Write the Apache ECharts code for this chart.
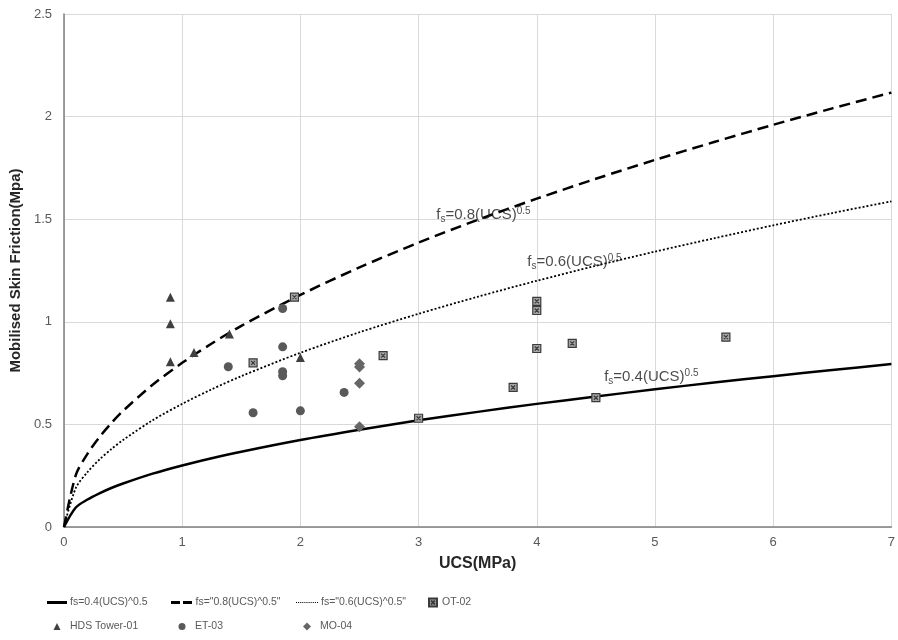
<!DOCTYPE html>
<html>
<head>
<meta charset="utf-8">
<script src="https://cdn.jsdelivr.net/npm/echarts@6/dist/echarts.min.js"></script>
<style>
  html, body { margin: 0; padding: 0; background: #fff; }
  #chart { width: 898px; height: 640px; }
</style>
</head>
<body>
<div id="chart"></div>
<script>
const curveUcs = [0, 0.1, 0.2, 0.3, 0.4, 0.5, 0.75, 1, 1.25, 1.5, 2, 2.5, 3, 3.5, 4, 4.5, 5, 5.5, 6, 6.5, 7];
const curveSolid = [0, 0.095, 0.134, 0.164, 0.190, 0.212, 0.260, 0.300, 0.335, 0.367, 0.424, 0.474, 0.520, 0.561, 0.600, 0.636, 0.671, 0.704, 0.735, 0.765, 0.794];
const curveDashed = [0, 0.253, 0.358, 0.438, 0.506, 0.566, 0.693, 0.800, 0.894, 0.980, 1.131, 1.265, 1.386, 1.497, 1.600, 1.697, 1.789, 1.876, 1.960, 2.040, 2.117];
const curveDotted = [0, 0.190, 0.268, 0.329, 0.379, 0.424, 0.520, 0.600, 0.671, 0.735, 0.849, 0.949, 1.039, 1.122, 1.200, 1.273, 1.342, 1.407, 1.470, 1.530, 1.587];

// Pile test results
const ot02Ucs = [1.95, 1.6, 2.7, 4.0, 4.0, 4.0, 4.3, 3.8, 4.5, 3.0, 5.6];
const ot02Fs  = [1.12, 0.80, 0.835, 1.10, 1.055, 0.87, 0.895, 0.68, 0.63, 0.53, 0.925];

const hdsUcs = [0.9, 0.9, 0.9, 1.1, 1.4, 2.0];
const hdsFs  = [1.12, 0.99, 0.805, 0.85, 0.94, 0.826];

const et03Ucs = [1.85, 1.85, 1.39, 1.85, 1.85, 1.6, 2.0, 2.37];
const et03Fs  = [1.065, 0.878, 0.781, 0.757, 0.737, 0.557, 0.566, 0.656];

const mo04Ucs = [2.5, 2.5, 2.5, 2.5];
const mo04Fs  = [0.78, 0.795, 0.70, 0.489];

// Series names as shown in the legend
const names = ['fs=0.4(UCS)^0.5', 'fs="0.8(UCS)^0.5"', 'fs="0.6(UCS)^0.5"', 'OT-02', 'HDS Tower-01', 'ET-03', 'MO-04'];

// Curve captions: coefficient text and the UCS / fs anchor of the caption's left edge
const captionCoef = ['0.8', '0.6', '0.4'];
const captionUcs = [3.15, 3.92, 4.57];
const captionFs = [1.52, 1.29, 0.73];

const zip = (xs, ys) => xs.map((x, i) => [x, ys[i]]);

const chart = echarts.init(document.getElementById('chart'), null, { renderer: 'canvas' });

const labelGrey = '#595959';
const fontFam = 'Arial, "Liberation Sans", Helvetica, sans-serif';

// Legend swatches drawn as filled paths so the line styles read like the plot lines
const solidIcon = 'path://M0,0 H20 V3 H0 Z';
const dashIcon = 'path://M0,0 H9 V3 H0 Z M12,0 H21 V3 H12 Z';
let dotPath = 'path://';
for (let i = 0; i < 11; i++) dotPath += 'M' + (i * 2) + ',0 h1 v1 h-1 Z ';
const dotIcon = dotPath.trim();
const xMark = 'path://M0,0 L10,0 L10,10 L0,10 Z M2.5,2.5 L7.5,7.5 M7.5,2.5 L2.5,7.5';

function legendAt(name, left, top, w, h, icon, gap) {
  return {
    data: [{ name: name, icon: icon }],
    left: left,
    top: top,
    orient: 'horizontal',
    padding: 0,
    itemGap: 0,
    itemWidth: w,
    itemHeight: h,
    selectedMode: false,
    textStyle: { color: labelGrey, fontSize: 10.5, fontFamily: fontFam, padding: [0, 0, 0, gap - 5] }
  };
}

const option = {
  backgroundColor: '#ffffff',
  animation: false,
  textStyle: { fontFamily: fontFam },
  grid: { left: 61, right: 2, top: 14, bottom: 113, containLabel: false },
  xAxis: {
    type: 'value',
    min: 0, max: 7, interval: 1,
    name: 'UCS(MPa)',
    nameLocation: 'middle',
    nameGap: 29,
    nameTextStyle: { fontSize: 16, fontWeight: 'bold', color: '#262626', fontFamily: fontFam },
    axisLine: { show: true, onZero: false, lineStyle: { color: '#7f7f7f', width: 1.5 } },
    axisTick: { show: false },
    axisLabel: { color: labelGrey, fontSize: 13, margin: 9, fontFamily: fontFam },
    splitLine: { show: true, lineStyle: { color: '#d9d9d9', width: 1 } }
  },
  yAxis: {
    type: 'value',
    min: 0, max: 2.5, interval: 0.5,
    name: 'Mobilised Skin Friction(Mpa)',
    nameLocation: 'middle',
    nameGap: 34,
    nameTextStyle: { fontSize: 15, fontWeight: 'bold', color: '#262626', fontFamily: fontFam },
    axisLine: { show: true, lineStyle: { color: '#7f7f7f', width: 1.5 } },
    axisTick: { show: false },
    axisLabel: { color: labelGrey, fontSize: 13, margin: 12, fontFamily: fontFam },
    splitLine: { show: true, lineStyle: { color: '#d9d9d9', width: 1 } }
  },
  legend: [
    legendAt(names[0], 47, 597, 20, 3, solidIcon, 3),
    legendAt(names[1], 171, 597, 22, 3, dashIcon, 3),
    legendAt(names[2], 296, 597, 22, 2, dotIcon, 3),
    legendAt(names[3], 428, 597, 8, 8, xMark, 5),
    legendAt(names[4], 53.5, 621, 7, 7, 'triangle', 9.5),
    legendAt(names[5], 178.5, 621, 7, 7, 'circle', 9.5),
    legendAt(names[6], 303, 621, 8, 8, 'diamond', 9)
  ],
  series: [
    {
      name: names[0], type: 'line', data: zip(curveUcs, curveSolid),
      symbol: 'none', smooth: 0.3, z: 3,
      lineStyle: { color: '#000000', width: 2.5, type: 'solid' },
      itemStyle: { color: '#000000' }
    },
    {
      name: names[1], type: 'line', data: zip(curveUcs, curveDashed),
      symbol: 'none', smooth: 0.3, z: 3,
      lineStyle: { color: '#000000', width: 2.5, type: [11, 6] },
      itemStyle: { color: '#000000' }
    },
    {
      name: names[2], type: 'line', data: zip(curveUcs, curveDotted),
      symbol: 'none', smooth: 0.3, z: 3,
      lineStyle: { color: '#000000', width: 1.8, type: [2, 2] },
      itemStyle: { color: '#000000' }
    },
    {
      name: names[3], type: 'scatter', data: zip(ot02Ucs, ot02Fs),
      symbol: xMark, symbolSize: 8, z: 5,
      itemStyle: { color: '#a6a6a6', borderColor: '#3a3a3a', borderWidth: 1.2, opacity: 1 }
    },
    {
      name: names[4], type: 'scatter', data: zip(hdsUcs, hdsFs),
      symbol: 'triangle', symbolSize: 9, z: 5,
      itemStyle: { color: '#404040', opacity: 1 }
    },
    {
      name: names[5], type: 'scatter', data: zip(et03Ucs, et03Fs),
      symbol: 'circle', symbolSize: 9, z: 5,
      itemStyle: { color: '#595959', opacity: 1 }
    },
    {
      name: names[6], type: 'scatter', data: zip(mo04Ucs, mo04Fs),
      symbol: 'diamond', symbolSize: 11, z: 5,
      itemStyle: { color: '#666666', opacity: 1 }
    },
    {
      name: 'curve captions', type: 'scatter',
      data: captionUcs.map((x, i) => ({ value: [x, captionFs[i]], coef: captionCoef[i] })),
      symbolSize: 0, silent: true, z: 6,
      label: {
        show: true, position: 'right', distance: 0,
        formatter: (p) => '{b|f}{sub|s}{b|=' + p.data.coef + '(UCS)}{sup|0.5}',
        rich: {
          b: { fontSize: 15, color: '#1a1a1a', fontFamily: fontFam, lineHeight: 18, verticalAlign: 'middle' },
          sub: { fontSize: 10, color: '#1a1a1a', fontFamily: fontFam, lineHeight: 11, verticalAlign: 'bottom' },
          sup: { fontSize: 10, color: '#1a1a1a', fontFamily: fontFam, lineHeight: 12, verticalAlign: 'top' }
        }
      }
    }
  ]
};

chart.setOption(option);
</script>
</body>
</html>
